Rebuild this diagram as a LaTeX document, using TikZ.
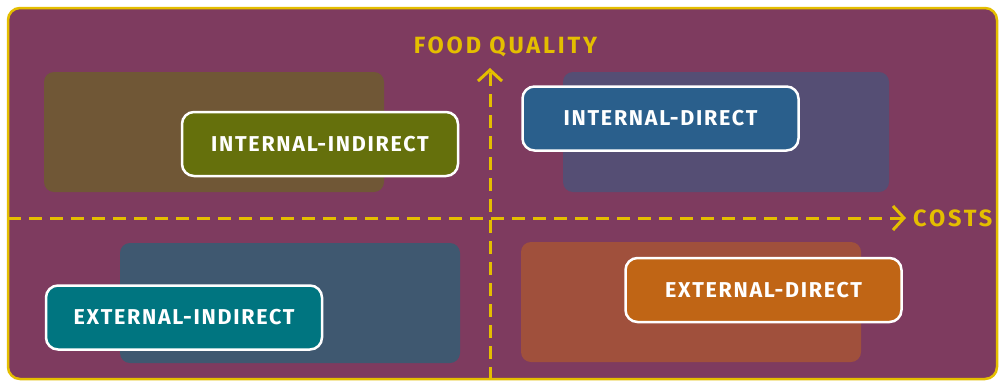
\documentclass[tikz,border=0pt]{standalone}
\usepackage{fontspec}
\setmainfont{Fira Sans}
\newfontfamily\quadfont{Fira Sans}[LetterSpace=8]
\newfontfamily\axisfont{Fira Sans}[LetterSpace=12]
\usetikzlibrary{arrows.meta}

\definecolor{bgpurple}{RGB}{126,59,95}
\definecolor{axisyellow}{RGB}{228,190,0}
\definecolor{olivebox}{RGB}{101,112,12}
\definecolor{oliveshade}{RGB}{112,87,54}
\definecolor{bluebox}{RGB}{42,95,140}
\definecolor{blueshade}{RGB}{85,78,116}
\definecolor{tealbox}{RGB}{0,117,128}
\definecolor{tealshade}{RGB}{63,88,112}
\definecolor{orangebox}{RGB}{192,101,21}
\definecolor{orangeshade}{RGB}{160,80,60}

\begin{document}
\begin{tikzpicture}[x=1pt,y=-1pt]
    \tikzset{
        shade/.style={
            rounded corners=10pt,
            minimum width=340pt,
            minimum height=120pt,
            inner sep=0pt},
        quadrant/.style={
            draw=white,
            line width=2.5pt,
            rounded corners=12pt,
            minimum width=276pt,
            minimum height=64pt,
            inner sep=0pt,
            text=white,
            font=\quadfont\bfseries\fontsize{21.5}{24}\selectfont},
        axis/.style={
            draw=axisyellow,
            line width=3pt,
            dash pattern=on 13pt off 8pt,
            -{Straight Barb[length=11pt,width=24pt]}},
        axislabel/.style={
            text=axisyellow,
            inner sep=0pt,
            font=\axisfont\bfseries\fontsize{23.5}{26}\selectfont}}

    \useasboundingbox (0,0) rectangle (999,381);
    \draw[axisyellow, fill=bgpurple, line width=2.5pt, rounded corners=12pt]
        (8,8) rectangle (997,379);

    % shaded areas behind the labels
    \node[shade, fill=oliveshade] (iishade) at (214,132) {};
    \node[shade, fill=blueshade, minimum width=326pt] (idshade) at (726,132) {};
    \node[shade, fill=tealshade] (eishade) at (290,303) {};
    \node[shade, fill=orangeshade] (edshade) at (691,302) {};

    % axes
    \coordinate (ybottom) at (490,380);
    \coordinate (ytop) at (490,68);
    \coordinate (xleft) at (8,218);
    \coordinate (xright) at (906,218);
    \draw[axis] (ybottom) -- (ytop);
    \draw[axis] (xleft) -- (xright);
    \node[axislabel, anchor=base] (quality) at (505.5,53) {FOOD QUALITY};
    \node[axislabel, anchor=base west] (costs) at (913,226) {COSTS};

    % quadrant labels
    \node[quadrant, fill=olivebox] (ii) at (320,144) {INTERNAL-INDIRECT};
    \node[quadrant, fill=bluebox] (id) at (660.5,118.5) {INTERNAL-DIRECT};
    \node[quadrant, fill=tealbox] (ei) at (184,317.5) {EXTERNAL-INDIRECT};
    \node[quadrant, fill=orangebox] (ed) at (763.5,290) {EXTERNAL-DIRECT};
\end{tikzpicture}
\end{document}
